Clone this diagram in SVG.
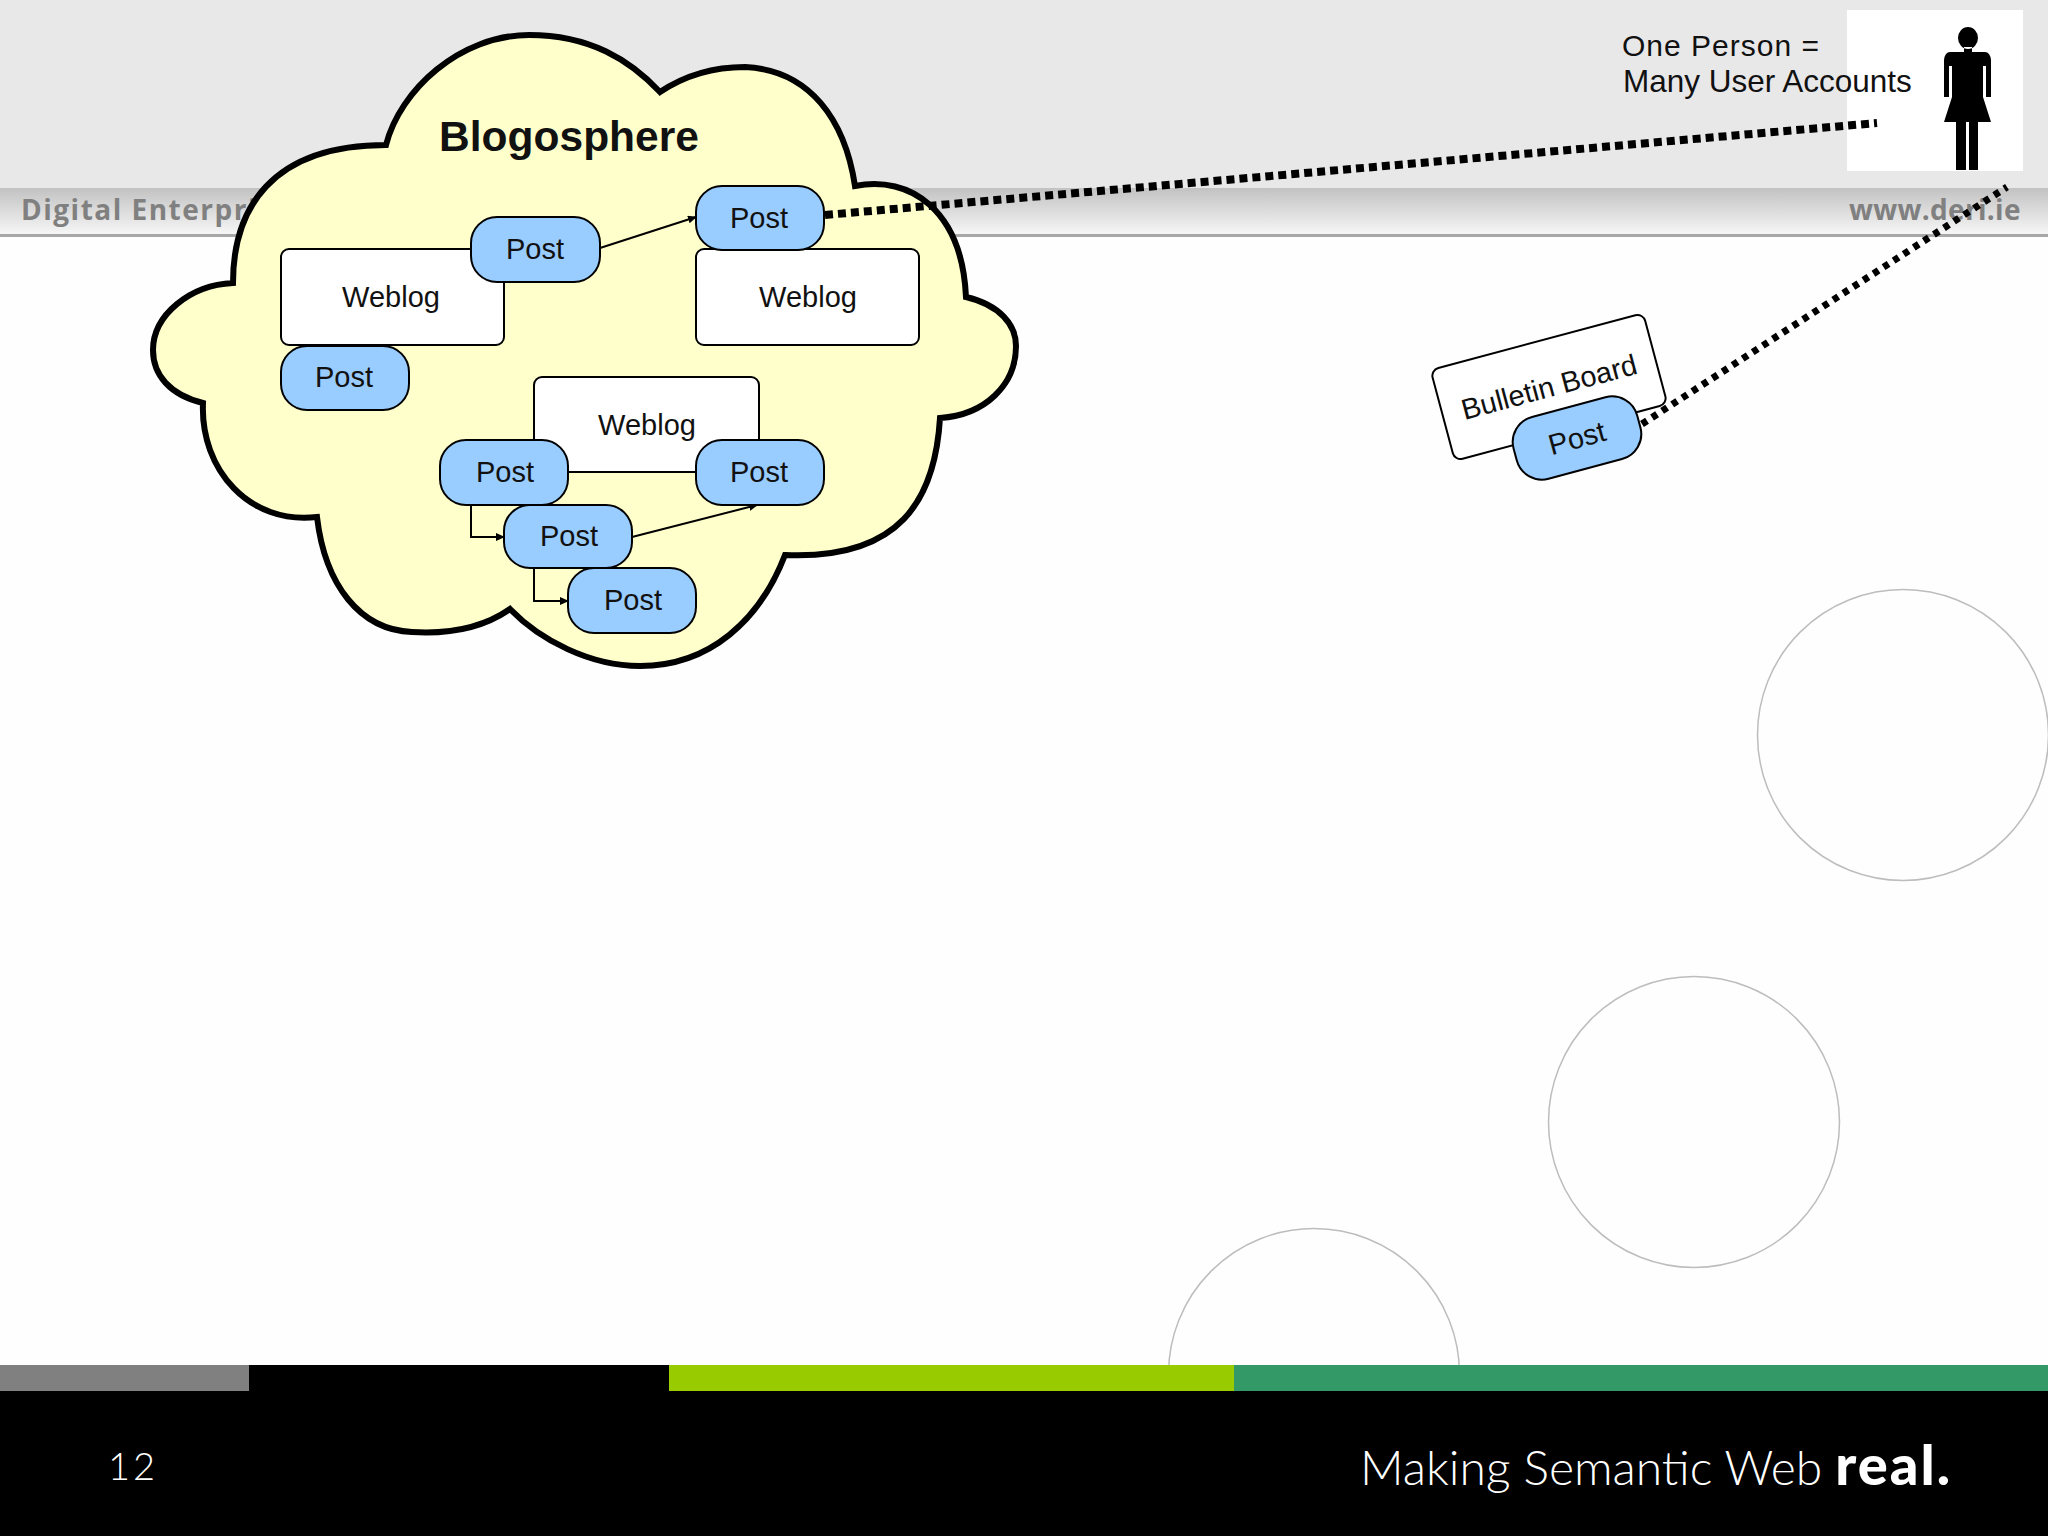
<svg xmlns="http://www.w3.org/2000/svg" width="2048" height="1536" viewBox="0 0 2048 1536">
<style>
.post{fill:#99ccff;stroke:#000;stroke-width:2}
.blog{fill:#fff;stroke:#000;stroke-width:2}
.t{font-family:"Liberation Sans",Arial,sans-serif;font-size:29px;fill:#111;text-anchor:middle}
.hdr{font-family:"Open Sans",sans-serif;font-weight:700;font-size:28px;fill:#808080}
.ln{fill:none;stroke:#000;stroke-width:2}
.circ{fill:none;stroke:#bdbdbd;stroke-width:1.5}
.foot{font-family:Lato,sans-serif;fill:#fff}
</style>
<defs>
<linearGradient id="band" x1="0" y1="0" x2="0" y2="1"><stop offset="0" stop-color="#c2c2c2"/><stop offset="1" stop-color="#f6f6f6"/></linearGradient>
<marker id="ah" markerWidth="10" markerHeight="10" refX="8" refY="4" orient="auto" markerUnits="userSpaceOnUse"><path d="M0,0L9,4L0,8Z" fill="#000"/></marker>
</defs>
<rect width="2048" height="1536" fill="#fefefe"/>
<g id="header">
<rect width="2048" height="188" fill="#e9e8e9"/>
<rect y="188" width="2048" height="46" fill="url(#band)"/>
<rect y="234" width="2048" height="3" fill="#a8a8a8"/>
<text class="hdr" x="21" y="220" letter-spacing="1.5">Digital Enterpri</text>
<text class="hdr" x="1849" y="220" letter-spacing="0.3">www.deri.ie</text>
</g>
<g id="circles">
<circle class="circ" cx="1903" cy="735" r="145.5"/>
<circle class="circ" cx="1694" cy="1122" r="145.5"/>
<circle class="circ" cx="1314" cy="1374" r="145.5"/>
</g>
<g id="footer">
<rect y="1365" width="2048" height="171" fill="#000"/>
<rect y="1365" width="249" height="26" fill="#808080"/>
<rect x="669" y="1365" width="565" height="26" fill="#99cc00"/>
<rect x="1234" y="1365" width="814" height="26" fill="#339966"/>
<text class="foot" x="108" y="1480" font-size="38" font-weight="300" letter-spacing="3">12</text>
<text class="foot" x="1360" y="1485" font-size="48" font-weight="300">Making Semantic Web <tspan font-weight="900" font-size="56" letter-spacing="2">real.</tspan></text>
</g>
<g id="cloud">
<path d="M386,145C400,90 460,35 529,35C590,35 630,60 660,92C690,72 720,67 745,67C810,70 845,120 855,186C910,175 962,210 966,297C1000,305 1016,325 1016,346C1016,385 985,415 940,418C935,500 900,560 785,555C760,620 710,666 640,666C590,666 540,640 510,609C480,630 445,634 412,632C360,630 325,585 317,517C250,525 200,470 203,403C170,395 153,375 153,350C153,315 190,285 233,283C233,210 270,145 386,145Z" fill="#ffffcc" stroke="#000" stroke-width="6"/>
<text x="569" y="151" font-family="Liberation Sans,Arial,sans-serif" font-weight="700" font-size="42.5" fill="#111" text-anchor="middle">Blogosphere</text>
</g>
<g id="person">
<rect x="1847" y="10" width="176" height="161" fill="#fff"/>
<path fill="#000" fill-rule="evenodd" d="M1958,38a10,11 0 1 1 20,0a10,11 0 1 1 -20,0zM1964,47h8v5h-8zM1950,52H1985Q1990,52 1991,60V97H1986V66H1983V97L1991,122H1978V170H1969V122H1966V170H1956V122H1944L1952,97V66H1949V97H1944V60Q1945,52 1950,52Z"/>
</g>
<text x="1622" y="56" font-family="Liberation Sans,Arial,sans-serif" font-size="30" fill="#111" letter-spacing="1">One Person =</text>
<text x="1623" y="92" font-family="Liberation Sans,Arial,sans-serif" font-size="31.5" fill="#111">Many User Accounts</text>
<g id="weblog1"><rect class="blog" x="281" y="249" width="223" height="96" rx="8"/><text class="t" x="391" y="307">Weblog</text></g>
<g id="weblog2"><rect class="blog" x="696" y="249" width="223" height="96" rx="8"/><text class="t" x="808" y="307">Weblog</text></g>
<g id="weblog3"><rect class="blog" x="534" y="377" width="225" height="95" rx="8"/><text class="t" x="647" y="435">Weblog</text></g>
<g id="connectors">
<path class="ln" marker-end="url(#ah)" d="M600,248L696,217"/>
<path class="ln" marker-end="url(#ah)" d="M471,505V537H504"/>
<path class="ln" marker-end="url(#ah)" d="M632,537L757,505"/>
<path class="ln" marker-end="url(#ah)" d="M534,568V601H568"/>
<path fill="none" stroke="#000" stroke-width="8" stroke-dasharray="8 5" d="M825,215L1877,123"/>
<path fill="none" stroke="#000" stroke-width="7" stroke-dasharray="6 6" d="M1642,424L2007,187"/>
</g>
<g id="post1"><rect class="post" x="471" y="217" width="129" height="65" rx="26"/><text class="t" x="535" y="259">Post</text></g>
<g id="post2"><rect class="post" x="696" y="186" width="128" height="64" rx="26"/><text class="t" x="759" y="228">Post</text></g>
<g id="post3"><rect class="post" x="281" y="346" width="128" height="64" rx="26"/><text class="t" x="344" y="387">Post</text></g>
<g id="post4"><rect class="post" x="440" y="440" width="128" height="65" rx="26"/><text class="t" x="505" y="482">Post</text></g>
<g id="post5"><rect class="post" x="696" y="440" width="128" height="65" rx="26"/><text class="t" x="759" y="482">Post</text></g>
<g id="post6"><rect class="post" x="504" y="505" width="128" height="63" rx="26"/><text class="t" x="569" y="546">Post</text></g>
<g id="post7"><rect class="post" x="568" y="568" width="128" height="65" rx="26"/><text class="t" x="633" y="610">Post</text></g>
<g id="bulletin" transform="rotate(-15 1549 387)"><rect class="blog" x="1439" y="340" width="220" height="94" rx="8"/><text class="t" x="1549" y="397">Bulletin Board</text></g>
<g id="post8" transform="rotate(-15 1577 438)"><rect class="post" x="1513" y="406" width="128" height="64" rx="26"/><text class="t" x="1577" y="448">Post</text></g>
</svg>
